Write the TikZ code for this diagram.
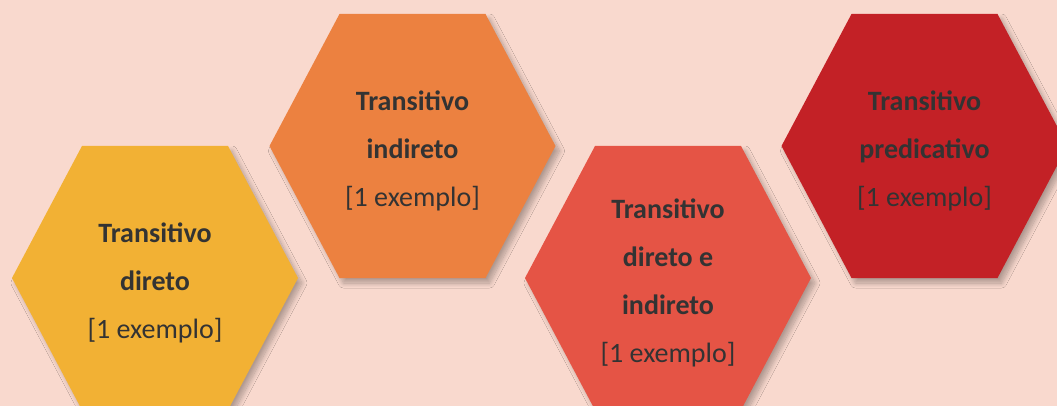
\documentclass[tikz,border=0pt]{standalone}
\usepackage{fontspec}
\setmainfont{Carlito}
\usetikzlibrary{shadows.blur}
\definecolor{bgpink}{HTML}{F9D9CE}
\definecolor{hexyellow}{HTML}{F2B134}
\definecolor{hexorange}{HTML}{EC8140}
\definecolor{hexred}{HTML}{E55445}
\definecolor{hexdark}{HTML}{C32126}
\definecolor{txtgray}{HTML}{333333}
\tikzset{
  hexshape/.style={blur shadow={shadow xshift=4pt, shadow yshift=-5pt, shadow blur radius=5pt, shadow blur steps=10, shadow opacity=30}},
  hexlabel/.style={align=center, text=txtgray, font=\fontsize{28}{48}\selectfont, inner sep=0pt},
}
\newcommand{\hexat}[3]{%
  \path[hexshape, fill=#3] (#1-143,#2) -- (#1-73,#2-132) -- (#1+73,#2-132) -- (#1+143,#2) -- (#1+73,#2+132) -- (#1-73,#2+132) -- cycle;}
\begin{document}
\begin{tikzpicture}[x=1pt,y=-1pt]
\useasboundingbox (0,0) rectangle (1057,406);
\clip (0,0) rectangle (1057,406);
\fill[bgpink] (0,0) rectangle (1057,406);
\hexat{155}{278}{hexyellow}
\hexat{412.5}{146}{hexorange}
\hexat{668}{278}{hexred}
\hexat{924.5}{146}{hexdark}
\node[hexlabel] (t1) at (155,283) {\textbf{Transitivo}\\\textbf{direto}\\{[1 exemplo]}};
\node[hexlabel] (t2) at (412.5,151) {\textbf{Transitivo}\\\textbf{indireto}\\{[1 exemplo]}};
\node[hexlabel] (t3) at (668,283) {\textbf{Transitivo}\\\textbf{direto e}\\\textbf{indireto}\\{[1 exemplo]}};
\node[hexlabel] (t4) at (924.5,151) {\textbf{Transitivo}\\\textbf{predicativo}\\{[1 exemplo]}};
\end{tikzpicture}
\end{document}
